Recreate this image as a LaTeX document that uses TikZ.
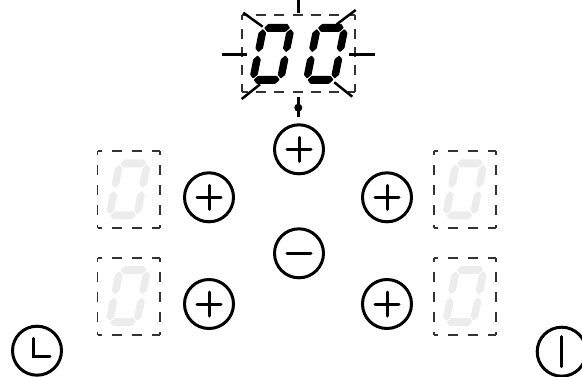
\documentclass[tikz,border=0pt]{standalone}
\definecolor{segoff}{HTML}{ECECEC}
\definecolor{dashc}{HTML}{333333}
\tikzset{
  x=1pt,y=-1pt,
  btn/.style={circle,draw=black,line width=3pt,minimum size=49pt,inner sep=0pt,outer sep=0pt},
  glyph/.style={draw=black,line width=3pt,line cap=round,line join=miter},
  ray/.style={draw=black,line width=2.5pt},
  smallbox/.style={draw=dashc,line width=1.7pt,dash pattern=on 10pt off 10pt,dash phase=6pt},
  bigbox/.style={draw=dashc,line width=1.7pt,dash pattern=on 10pt off 8.3pt,dash phase=4.3pt}
}
\newcommand{\sevenseg}[3]{%
  \begin{scope}[shift={(#1,#2)},xslant=0.2]
    \foreach \sy in {-26,26}{
      \fill[#3,rounded corners=0.7pt,shift={(0,\sy)}] (-13,0)--(-9.4,-4)--(9.4,-4)--(13,0)--(9.4,4)--(-9.4,4)--cycle;}
    \foreach \sx in {-13.8,13.8}{\foreach \sy in {-13.2,13.2}{
      \fill[#3,rounded corners=0.7pt,shift={(\sx,\sy)}] (0,-11.6)--(3.8,-7.8)--(3.8,7.8)--(0,11.6)--(-3.8,7.8)--(-3.8,-7.8)--cycle;}}
  \end{scope}}
\newcommand{\dashrect}[5]{%
  \draw[#5] (#1,#2)--(#3,#2);\draw[#5] (#1,#2)--(#1,#4);
  \draw[#5] (#1,#4)--(#3,#4);\draw[#5] (#3,#2)--(#3,#4);}
\newcommand{\plusglyph}[1]{\draw[glyph] ([xshift=-12pt]#1.center)--([xshift=12pt]#1.center);\draw[glyph] ([yshift=-12pt]#1.center)--([yshift=12pt]#1.center);}
\begin{document}
\begin{tikzpicture}
\useasboundingbox (0,0) rectangle (582,376);
% big display
\dashrect{242}{14.7}{354.7}{91.7}{bigbox}{}
\sevenseg{271.9}{53.8}{black}
\sevenseg{325.7}{53.8}{black}
% rays
\draw[ray] (298.3,0)--(298.3,13);
\draw[ray] (221.7,54.3)--(246.7,54.3);
\draw[ray] (349.3,54.3)--(375,54.3);
\draw[ray] (243.3,12.7)--(262.7,26.7);
\draw[ray] (355.7,10)--(336.7,24.3);
\draw[ray] (241.7,99)--(260,84.3);
\draw[ray] (352.3,96.7)--(334.3,82.3);
\draw[ray] (298.3,96.7)--(298.3,117.3);
\fill[black] (298.3,107.7) circle (4pt);
% small displays
\dashrect{97.5}{151}{159.7}{228}{smallbox}{}
\dashrect{97.5}{258}{159.7}{334.7}{smallbox}{}
\dashrect{433.7}{151}{496}{228}{smallbox}{}
\dashrect{433.7}{258}{496}{334.7}{smallbox}{}
\sevenseg{128.3}{189.4}{segoff}
\sevenseg{128.3}{296}{segoff}
\sevenseg{464.8}{189.4}{segoff}
\sevenseg{464.8}{296}{segoff}
% buttons
\node[btn] (top) at (299,149.3) {};
\node[btn] (minus) at (299,253.3) {};
\node[btn] (ul) at (209,197.3) {};
\node[btn] (ll) at (209,304) {};
\node[btn] (ur) at (387,197.3) {};
\node[btn] (lr) at (387,304) {};
\node[btn] (clock) at (37,350.7) {};
\node[btn] (power) at (561.7,351.7) {};
\plusglyph{top}\plusglyph{ul}\plusglyph{ll}\plusglyph{ur}\plusglyph{lr}
\draw[glyph] ([xshift=-12pt]minus.center)--([xshift=12pt]minus.center);
\draw[glyph] (33.3,338.3)--(33.3,356.7)--(50,356.7);
\draw[glyph] ([yshift=-15pt]power.center)--([yshift=15pt]power.center);
\end{tikzpicture}
\end{document}
